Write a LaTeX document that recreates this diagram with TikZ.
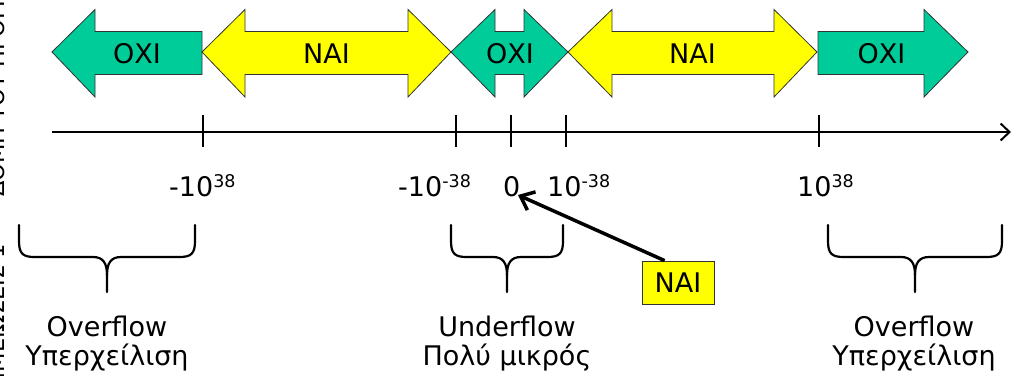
\documentclass[tikz,border=0pt]{standalone}
\usepackage{fontspec}
\setmainfont{DejaVu Sans}
\usetikzlibrary{arrows.meta,calc}
\definecolor{tealgreen}{HTML}{00CC99}
\definecolor{brightyellow}{HTML}{FFFF00}
\newcommand\supnum[1]{\raisebox{9pt}{\fontsize{17.5}{17.5}\selectfont #1}}
\begin{document}
\begin{tikzpicture}[x=1pt,y=-1pt,
  shapeout/.style={draw=black!80, line width=0.8pt, line join=miter},
  oxishape/.style={shapeout, fill=tealgreen},
  naishape/.style={shapeout, fill=brightyellow},
  lbl/.style={font=\fontsize{27}{32}\selectfont, inner sep=0pt},
  sidelbl/.style={font=\fontsize{22.5}{26}\selectfont, inner sep=0pt, rotate=90},
  axisline/.style={line width=2pt},
  bracestyle/.style={line width=2.2pt, line join=round, line cap=round},
  pointer/.style={line width=3.5pt, -{Straight Barb[length=12pt,width=20pt]}}
]
\useasboundingbox (0,0) rectangle (1016,375);

% side (clipped) title
\node[sidelbl, anchor=base east] (side1) at (5,244) {ΣΗΜΕΙΩΣΕΙΣ 1};
\node[sidelbl, anchor=base west] (side2) at (5,197) {ΔΟΜΗ ΤΟΥ ΠΡΟΓΡΑΜΜΑΤΟΣ};

% block arrows
\draw[oxishape] (52,52) -- (95,9.5) -- (95,31.5) -- (202,31.5) -- (202,74.5) -- (95,74.5) -- (95,97) -- cycle;
\draw[naishape] (202,52) -- (245,9.5) -- (245,31.5) -- (408,31.5) -- (408,9.5) -- (451,52) -- (408,97) -- (408,74.5) -- (245,74.5) -- (245,97) -- cycle;
\draw[oxishape] (451,52) -- (495,9.5) -- (495,31.5) -- (524,31.5) -- (524,9.5) -- (568,52) -- (524,97) -- (524,74.5) -- (495,74.5) -- (495,97) -- cycle;
\draw[naishape] (568,52) -- (612,9.5) -- (612,31.5) -- (774,31.5) -- (774,9.5) -- (817,52) -- (774,97) -- (774,74.5) -- (612,74.5) -- (612,97) -- cycle;
\draw[oxishape] (818,31.5) -- (924,31.5) -- (924,9.5) -- (968,52) -- (924,97) -- (924,74.5) -- (818,74.5) -- cycle;

\node[lbl, anchor=base] (oxi1) at (137,63) {ΟΧΙ};
\node[lbl, anchor=base] (nai1) at (326.5,63) {ΝΑΙ};
\node[lbl, anchor=base] (oxi2) at (510,63) {ΟΧΙ};
\node[lbl, anchor=base] (nai2) at (692.5,63) {ΝΑΙ};
\node[lbl, anchor=base] (oxi3) at (881.5,63) {ΟΧΙ};

% axis
\coordinate (axstart) at (52,132);
\coordinate (axend) at (1011,132);
\draw[axisline, -{Straight Barb[length=9pt,width=17pt]}] (axstart) -- (axend);
\foreach \x/\n in {203/a,456/b,511/c,566/d,819/e} {
  \coordinate (tt\n) at (\x,115);
  \coordinate (tb\n) at (\x,147);
  \draw[axisline] (tt\n) -- (tb\n);
}

% tick labels
\node[lbl, anchor=base west] (l1) at (169,196) {-10\supnum{38}};
\node[lbl, anchor=base west] (l2) at (398,196) {-10\supnum{-38}};
\node[lbl, anchor=base west] (l3) at (503,196) {0};
\node[lbl, anchor=base west] (l4) at (547,196) {10\supnum{-38}};
\node[lbl, anchor=base west] (l5) at (797,196) {10\supnum{38}};

% braces
\foreach \L/\R in {19/195, 451/563, 828/1002} {
  \pgfmathsetmacro\C{(\L+\R)/2}
  \draw[bracestyle] (\L,225) -- (\L,241) .. controls (\L,254) and ({\L+4},257) .. ({\L+16},257)
     -- ({\C-14},257) .. controls ({\C-4},257) and (\C,263) .. (\C,275) -- (\C,292);
  \draw[bracestyle] (\C,275) .. controls (\C,263) and ({\C+4},257) .. ({\C+14},257)
     -- ({\R-16},257) .. controls ({\R-4},257) and (\R,254) .. (\R,241) -- (\R,225);
}

% bottom texts
\node[lbl, anchor=base] (ov1) at (107,336) {Overflow};
\node[lbl, anchor=base] (yp1) at (107,365) {Υπερχείλιση};
\node[lbl, anchor=base] (un1) at (507,336) {Underflow};
\node[lbl, anchor=base] (pm1) at (507,365) {Πολύ μικρός};
\node[lbl, anchor=base] (ov2) at (914,336) {Overflow};
\node[lbl, anchor=base] (yp2) at (914,365) {Υπερχείλιση};

% NAI callout
\node[naishape, lbl, minimum width=72pt, minimum height=43pt] (naibox) at (678,282.5) {ΝΑΙ};
\coordinate (ptip) at (518,195);
\draw[pointer] ($(naibox.north west)+(23,0)$) -- (ptip);
\end{tikzpicture}
\end{document}
